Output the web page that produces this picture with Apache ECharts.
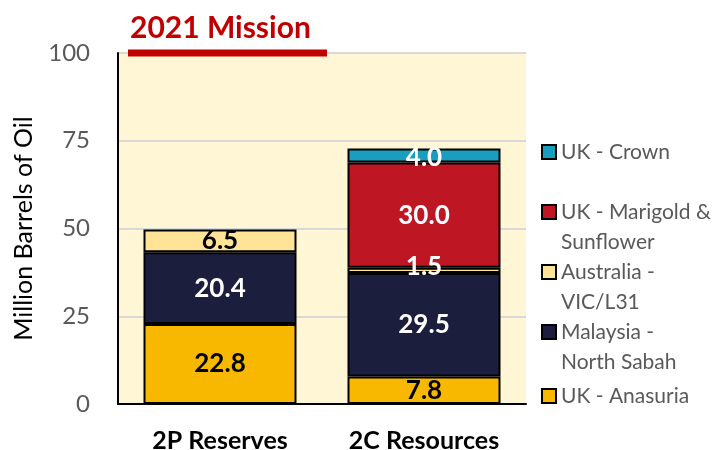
<!DOCTYPE html>
<html>
<head>
<meta charset="utf-8">
<script src="https://cdn.jsdelivr.net/npm/echarts@6/dist/echarts.min.js"></script>
<style>
  html, body { margin: 0; padding: 0; background: #fff; }
  #chart { width: 719px; height: 450px; }
</style>
</head>
<body>
<div id="chart"></div>
<script>
const categories = ["2P Reserves", "2C Resources"];
const anasuria = [22.8, 7.8];
const malaysia = [20.4, 29.5];
const australia = [6.5, 1.5];
const marigold = [null, 30.0];
const crown = [null, 4.0];
const yTicks = [0, 25, 50, 75, 100];

const FONT = "Lato, 'Open Sans', sans-serif";

function bar(name, data, color, labelColors, labelOffsets) {
  return {
    name,
    type: "bar",
    stack: "total",
    data: data.map((v, i) => ({
      value: v,
      label: { color: labelColors[i], offset: labelOffsets ? labelOffsets[i] : [0, 0] },
    })),
    barCategoryGap: "25%",
    itemStyle: { color, borderColor: "#000", borderWidth: 2 },
    label: {
      show: true,
      position: "inside",
      fontFamily: FONT,
      fontWeight: "bold",
      fontSize: 26,
      formatter: (p) => p.value.toFixed(1),
    },
  };
}

// leading blank line keeps the icon level with the first text line
const legendTexts = {
  "UK - Crown": "UK - Crown",
  "UK - Marigold & Sunflower": "\nUK - Marigold &\nSunflower",
  "Australia - VIC/L31": "\nAustralia -\nVIC/L31",
  "Malaysia - North Sabah": "\nMalaysia -\nNorth Sabah",
  "UK - Anasuria": "UK - Anasuria",
};

function legendAt(name, iconY, twoLines) {
  const lh = 30;
  return {
    data: [name],
    left: 541,
    top: twoLines ? iconY - 1.5 * lh : iconY - lh / 2,
    padding: 0,
    itemWidth: 14,
    itemHeight: 14,
    icon: "rect",
    selectedMode: false,
    formatter: (n) => legendTexts[n],
    textStyle: {
      color: "#595959",
      fontFamily: FONT,
      fontSize: 21,
      lineHeight: lh,
    },
  };
}

const chart = echarts.init(document.getElementById("chart"));
chart.setOption({
  animation: false,
  title: {
    text: "2021 Mission",
    left: 125,
    top: 8,
    textStyle: { color: "#C00000", fontFamily: FONT, fontWeight: "bold", fontSize: 30 },
  },
  legend: [
    legendAt("UK - Crown", 152, false),
    legendAt("UK - Marigold & Sunflower", 212, true),
    legendAt("Australia - VIC/L31", 272, true),
    legendAt("Malaysia - North Sabah", 332, true),
    legendAt("UK - Anasuria", 396, false),
  ],
  grid: {
    left: 118, right: 193, top: 53, bottom: 46,
    outerBoundsMode: "none",
    show: true, backgroundColor: "#FFF6D5", borderWidth: 0,
  },
  xAxis: {
    type: "category",
    data: categories,
    axisLine: { lineStyle: { color: "#000", width: 2 } },
    axisTick: { show: false },
    axisLabel: {
      color: "#000", fontFamily: FONT, fontWeight: "bold", fontSize: 25, margin: 24,
    },
  },
  yAxis: {
    type: "value",
    min: yTicks[0],
    max: yTicks[yTicks.length - 1],
    interval: 25,
    name: "Million Barrels of Oil",
    nameLocation: "middle",
    nameGap: 82,
    nameTextStyle: { color: "#000", fontFamily: FONT, fontSize: 25 },
    axisLine: { show: true, lineStyle: { color: "#000", width: 2 } },
    axisTick: { show: false },
    axisLabel: { color: "#595959", fontFamily: FONT, fontSize: 24, margin: 28 },
    splitLine: { lineStyle: { color: "#D9D9D9", width: 2 } },
  },
  series: [
    bar("UK - Anasuria", anasuria, "#F9B800", ["#000", "#000"]),
    bar("Malaysia - North Sabah", malaysia, "#1C1E3E", ["#fff", "#fff"]),
    bar("Australia - VIC/L31", australia, "#FFE396", ["#000", "#fff"], [[0, 0], [0, -4]]),
    bar("UK - Marigold & Sunflower", marigold, "#BE1622", ["#fff", "#fff"]),
    bar("UK - Crown", crown, "#1A9EBF", ["#fff", "#fff"], [[0, 0], [0, 2]]),
  ],
});

// the red "mission" line sits on the 100 gridline
const yTop = chart.convertToPixel({ yAxisIndex: 0 }, 100);
const xStart = chart.convertToPixel({ xAxisIndex: 0 }, 0) - 92;
const xEnd = chart.convertToPixel({ xAxisIndex: 0 }, 0) + 107;
chart.setOption({
  graphic: [{
    type: "line",
    shape: { x1: xStart, y1: yTop, x2: xEnd, y2: yTop },
    style: { stroke: "#C00000", lineWidth: 7 },
    z: 10,
  }],
});
</script>
</body>
</html>
